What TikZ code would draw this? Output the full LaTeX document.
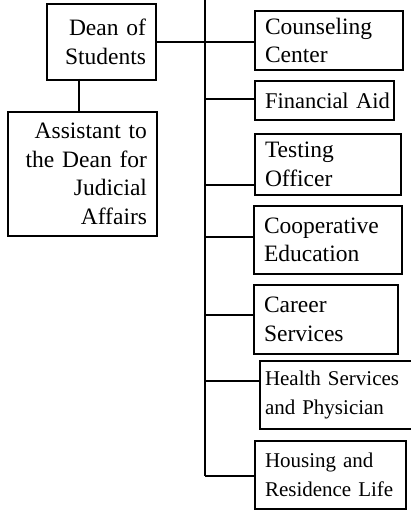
\documentclass[tikz,border=0pt]{standalone}
\usepackage{fontspec}
\setmainfont[WordSpace=0.85]{Liberation Serif}
\begin{document}
\begin{tikzpicture}[x=1pt,y=-1pt,line width=2pt,
    box/.style={draw, anchor=north west, inner ysep=0pt, inner xsep=10pt,
      font=\fontsize{23.5}{28.5}\selectfont},
    lbox/.style={box, align=left},
    rbox/.style={box, align=right},
    small/.style={font=\fontsize{21}{29}\selectfont}]
  \useasboundingbox (0,0) rectangle (410,510);
  \node[rbox,text width=89,minimum height=76] (dean) at (46,3) {Dean of\\Students};
  \node[rbox,text width=129,minimum height=124] (assist) at (7,111)
    {Assistant to\\the Dean for\\Judicial\\Affairs};
  \node[lbox,text width=128,minimum height=59] (counsel) at (254,10) {Counseling\\Center};
  \node[lbox,font=\fontsize{22.5}{27}\selectfont,text width=119,minimum height=39] (finaid)
    at (254,80) {Financial~Aid};
  \node[lbox,text width=126,minimum height=61] (testing) at (254,133) {Testing\\Officer};
  \node[lbox,text width=128,minimum height=68] (coop) at (253,205) {Cooperative\\Education};
  \node[lbox,text width=124,minimum height=69] (career) at (253,284) {Career\\Services};
  \node[lbox,small,inner xsep=5pt,text width=150,minimum height=68] (health) at (259,360)
    {Health Services\\and Physician};
  \node[lbox,small,text width=131,minimum height=68] (housing) at (254,440)
    {Housing and\\Residence~Life};
  \coordinate (top) at (205,0);
  \coordinate (bottom) at (205,476);
  \coordinate (d1) at (79,79);
  \draw (top) -- (bottom);
  \draw (dean.east) -- (dean.east -| top);
  \draw (d1) -- (d1 |- assist.north);
  \foreach \name/\y in {counsel/42,finaid/99,testing/185,coop/237,career/315,health/381,housing/476}
    \draw (205,\y) -- (205,\y -| \name.west);
\end{tikzpicture}
\end{document}
